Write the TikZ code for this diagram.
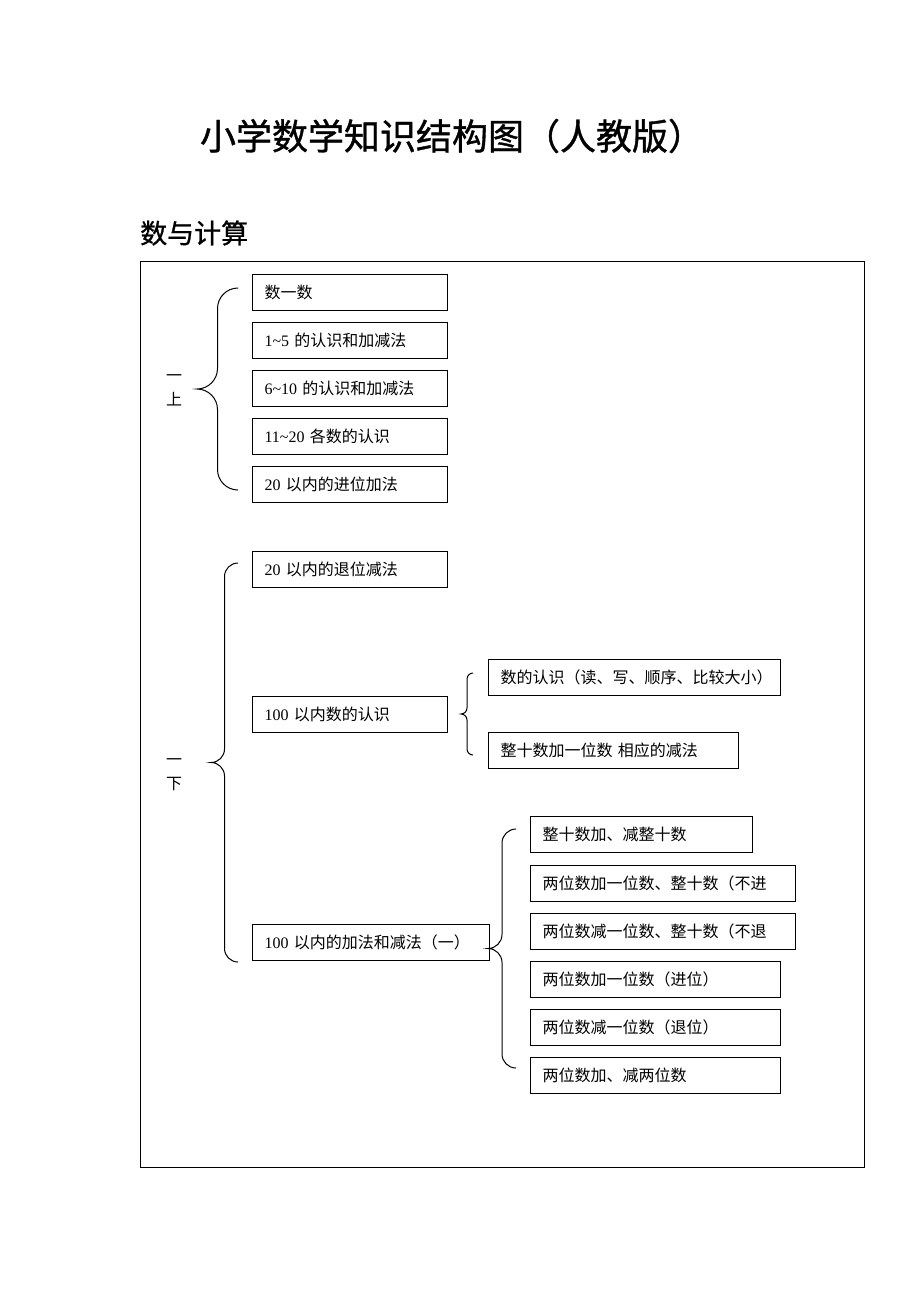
\documentclass[tikz,border=0pt]{standalone}
\usepackage{fontspec}
\setmainfont{Liberation Serif}
\newfontfamily\cjk{Noto Sans CJK SC}
\newfontfamily\cjkhead[FakeBold=1]{Noto Sans CJK SC}
\usetikzlibrary{calc}

\newcommand{\boxfont}{\cjk\fontsize{16}{24}\selectfont}

\begin{document}
\begin{tikzpicture}[x=1pt, y=1pt,
    box/.style={draw, line width=1pt, anchor=west, minimum height=36, inner xsep=12, inner ysep=0,
        text width=#1, align=left, font=\boxfont},
    lbl/.style={align=center, inner sep=0, font=\boxfont},
    curly/.style={to path={let \p1=(\tikztostart), \p2=(\tikztotarget), \n1={(\y1+\y2)/2},
        \n2={#1/2}, \n3={0.55*#1/2} in
        (\p1) .. controls +(-\n3,0) and +(0,\n3) .. (\x1-\n2, \y1-\n2)
        -- (\x1-\n2, \n1+\n2) .. controls +(0,-\n3) and +(\n3,0) .. (\x1-#1, \n1)
        .. controls +(\n3,0) and +(0,\n3) .. (\x1-\n2, \n1-\n2)
        -- (\x1-\n2, \y2+\n2) .. controls +(0,-\n3) and +(-\n3,0) .. (\p2)}}]

    \useasboundingbox (0,0) rectangle (920,-1302);

    \node[font=\cjkhead\fontsize{36}{40}\selectfont] (title) at (452,-136) {小学数学知识结构图（人教版）};
    \node[anchor=west, inner sep=0, font=\cjkhead\fontsize{27}{30}\selectfont] (head) at (140,-233) {数与计算};

    \draw[line width=1pt] (140,-261) rectangle (864,-1167);

    % first term
    \node[lbl] (up) at (174,-390) {一\\上};
    \node[box=171] (a1) at (252,-292) {数一数};
    \node[box=171] (a2) at (252,-340) {{\rmfamily 1\textasciitilde 5} 的认识和加减法};
    \node[box=171] (a3) at (252,-388) {{\rmfamily 6\textasciitilde 10} 的认识和加减法};
    \node[box=171] (a4) at (252,-436) {{\rmfamily 11\textasciitilde 20} 各数的认识};
    \node[box=171] (a5) at (252,-484) {{\rmfamily 20} 以内的进位加法};
    \draw[line width=1pt] ($(a1.west)+(-14,4)$) to[curly=41] ($(a5.west)+(-14,-6)$);

    % second term
    \node[lbl] (down) at (174,-775) {一\\下};
    \node[box=171] (b1) at (252,-569) {{\rmfamily 20} 以内的退位减法};
    \node[box=171] (b2) at (252,-714) {{\rmfamily 100} 以内数的认识};
    \node[box=213] (b3) at (252,-942) {{\rmfamily 100} 以内的加法和减法（一）};
    \draw[line width=1pt] ($(b1.west)+(-14,6)$) to[curly=27] ($(b3.west)+(-14,-20)$);

    \node[box=268] (c1) at (488,-677) {数的认识（读、写、顺序、比较大小）};
    \node[box=226] (c2) at (488,-750) {整十数加一位数 相应的减法};
    \draw[line width=1pt] ($(c1.west)+(-15,4)$) to[curly=12] ($(c2.west)+(-15,-5)$);

    \node[box=198] (d1) at (530,-834) {整十数加、减整十数};
    \node[box=241] (d2) at (530,-883) {两位数加一位数、整十数（不进};
    \node[box=241] (d3) at (530,-931) {两位数减一位数、整十数（不退};
    \node[box=226] (d4) at (530,-979) {两位数加一位数（进位）};
    \node[box=226] (d5) at (530,-1027) {两位数减一位数（退位）};
    \node[box=226] (d6) at (530,-1075) {两位数加、减两位数};
    \draw[line width=1pt] ($(d1.west)+(-14,5)$) to[curly=28] ($(d6.west)+(-14,7)$);

\end{tikzpicture}
\end{document}
